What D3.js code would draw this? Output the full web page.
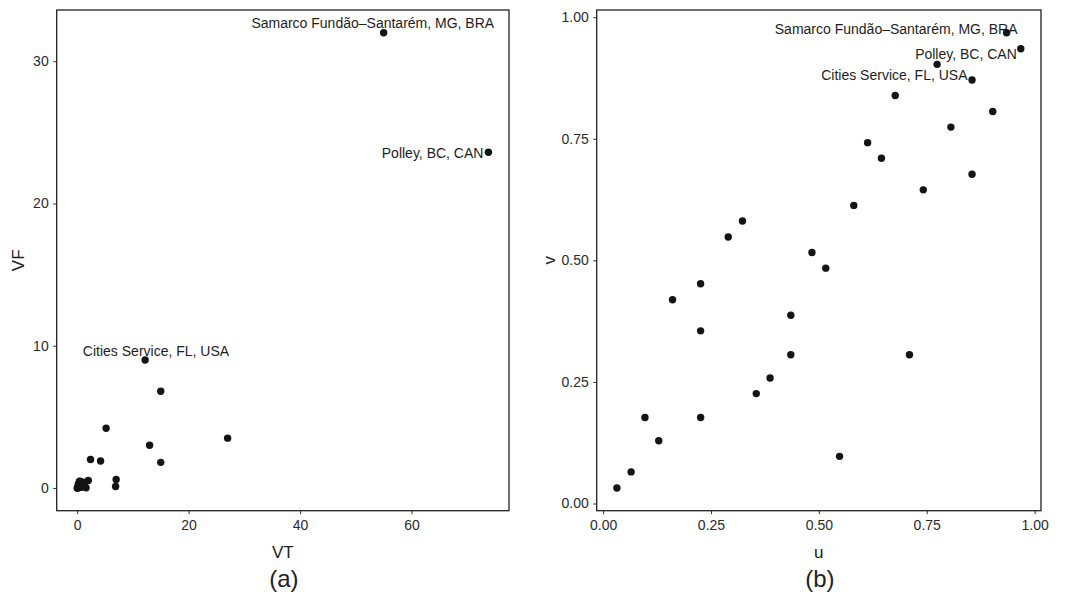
<!DOCTYPE html>
<html>
<head>
<meta charset="UTF-8">
<title>VT / VF scatter</title>
<script src="https://d3js.org/d3.v7.min.js"></script>
<style>
    body {
        margin: 0;
        padding: 0;
        background: #fff;
        font-family: "Liberation Sans", Arial, sans-serif;
    }
    .tick text {
        font-size: 14px;
        fill: #2b2b2b;
    }
    .tick line {
        stroke: #333;
    }
    .title {
        font-size: 17px;
        fill: #222;
        text-anchor: middle;
    }
    .panel-tag {
        font-size: 24px;
        fill: #222;
        text-anchor: middle;
    }
    .lab {
        font-size: 14px;
        fill: #1e1e1e;
    }
</style>
</head>
<body>
<div id="chart"></div>
<script>
    // raw volumes (panel a)
    var names = ["Samarco Fundão\u2013Santarém, MG, BRA", "Polley, BC, CAN", "Cities Service, FL, USA"];
    var VT = [55.0, 73.8, 12.2, 15.0, 5.2, 27.0, 13.0, 2.4, 4.2, 15.0,
              7.0, 6.9, 2.0, 1.6, 1.3, 1.1, 0.9, 0.9, 0.7, 0.6,
              0.5, 0.4, 0.3, 0.3, 0.3, 0.2, 0.15, 0.1, 0.05, 0.02];
    var VF = [32.0, 23.6, 9.0, 6.8, 4.2, 3.5, 3.0, 2.0, 1.9, 1.8,
              0.6, 0.1, 0.52, 0.01, 0.35, 0.4, 0.2, 0.1, 0.05, 0.04,
              0.48, 0.45, 0.3, 0.15, 0.03, 0.25, 0.02, 0.03, 0.005, 0.001];
    // pseudo-observations (panel b)
    var u = [0.935, 0.968, 0.774, 0.855, 0.677, 0.903, 0.806, 0.613, 0.645, 0.855,
             0.742, 0.710, 0.581, 0.548, 0.516, 0.484, 0.435, 0.435, 0.387, 0.355,
             0.323, 0.290, 0.226, 0.226, 0.226, 0.161, 0.129, 0.097, 0.065, 0.032];
    var v = [0.968, 0.935, 0.903, 0.871, 0.839, 0.806, 0.774, 0.742, 0.710, 0.677,
             0.645, 0.306, 0.613, 0.097, 0.484, 0.516, 0.387, 0.306, 0.258, 0.226,
             0.581, 0.548, 0.452, 0.355, 0.177, 0.419, 0.129, 0.177, 0.065, 0.032];

    var ticksA = {x: [0, 20, 40, 60], y: [0, 10, 20, 30]};
    var ticksB = [0, 0.25, 0.5, 0.75, 1];

    var svg = d3.select("#chart").append("svg")
        .attr("width", 1067)
        .attr("height", 594);

    // ggplot style 5% expansion
    function expand(ext) {
        var pad = (ext[1] - ext[0]) * 0.05;
        return [ext[0] - pad, ext[1] + pad];
    }

    function panel(opt) {
        var g = svg.append("g");
        var x = d3.scaleLinear().domain(expand(d3.extent(opt.xs))).range([opt.left, opt.right]);
        var y = d3.scaleLinear().domain(expand(d3.extent(opt.ys))).range([opt.bottom, opt.top]);

        g.append("g")
            .attr("transform", "translate(0," + opt.bottom + ")")
            .call(d3.axisBottom(x).tickValues(opt.xticks).tickFormat(opt.fmt).tickSize(3.5).tickPadding(6))
            .call(function(a) { a.select(".domain").remove(); });

        g.append("g")
            .attr("transform", "translate(" + opt.left + ",0)")
            .call(d3.axisLeft(y).tickValues(opt.yticks).tickFormat(opt.fmt).tickSize(3.5).tickPadding(4.5))
            .call(function(a) { a.select(".domain").remove(); });

        g.selectAll(".tick text").attr("font-family", null);

        g.append("rect")
            .attr("x", opt.left).attr("y", opt.top)
            .attr("width", opt.right - opt.left)
            .attr("height", opt.bottom - opt.top)
            .attr("fill", "none")
            .attr("stroke", "#222")
            .attr("stroke-width", 1.3);

        g.selectAll("circle")
            .data(opt.xs)
            .enter().append("circle")
            .attr("cx", function(d) { return x(d); })
            .attr("cy", function(d, i) { return y(opt.ys[i]); })
            .attr("r", 3.7)
            .attr("fill", "#141414");

        opt.labels.forEach(function(l) {
            g.append("text")
                .attr("class", "lab")
                .attr("x", x(opt.xs[l.i]) + l.dx)
                .attr("y", y(opt.ys[l.i]) + l.dy)
                .attr("text-anchor", l.anchor)
                .text(names[l.i]);
        });

        var cx = (opt.left + opt.right) / 2;
        g.append("text").attr("class", "title")
            .attr("x", cx).attr("y", 558)
            .text(opt.xtitle);
        g.append("text").attr("class", "title")
            .attr("transform", "translate(" + opt.ytx + "," + ((opt.top + opt.bottom) / 2) + ") rotate(-90)")
            .attr("dy", "0.35em")
            .text(opt.ytitle);
        g.append("text").attr("class", "panel-tag")
            .attr("x", cx + 1).attr("y", 587)
            .text(opt.tag);
    }

    panel({
        xs: VT, ys: VF,
        left: 56.7, right: 509, top: 10, bottom: 510.7,
        xticks: ticksA.x, yticks: ticksA.y, fmt: d3.format("d"),
        xtitle: "VT", ytitle: "VF", ytx: 18, tag: "(a)",
        labels: [
            {i: 0, dx: 110.5, dy: -4.5, anchor: "end"},
            {i: 1, dx: -5, dy: 5.5, anchor: "end"},
            {i: 2, dx: 84, dy: -4, anchor: "end"}
        ]
    });

    panel({
        xs: u, ys: v,
        left: 596.7, right: 1041, top: 10, bottom: 510.7,
        xticks: ticksB, yticks: ticksB, fmt: d3.format(".2f"),
        xtitle: "u", ytitle: "v", ytx: 549, tag: "(b)",
        labels: [
            {i: 0, dx: 11, dy: 1.3, anchor: "end"},
            {i: 1, dx: -4, dy: 10.6, anchor: "end"},
            {i: 2, dx: 30.4, dy: 16, anchor: "end"}
        ]
    });
</script>
</body>
</html>
